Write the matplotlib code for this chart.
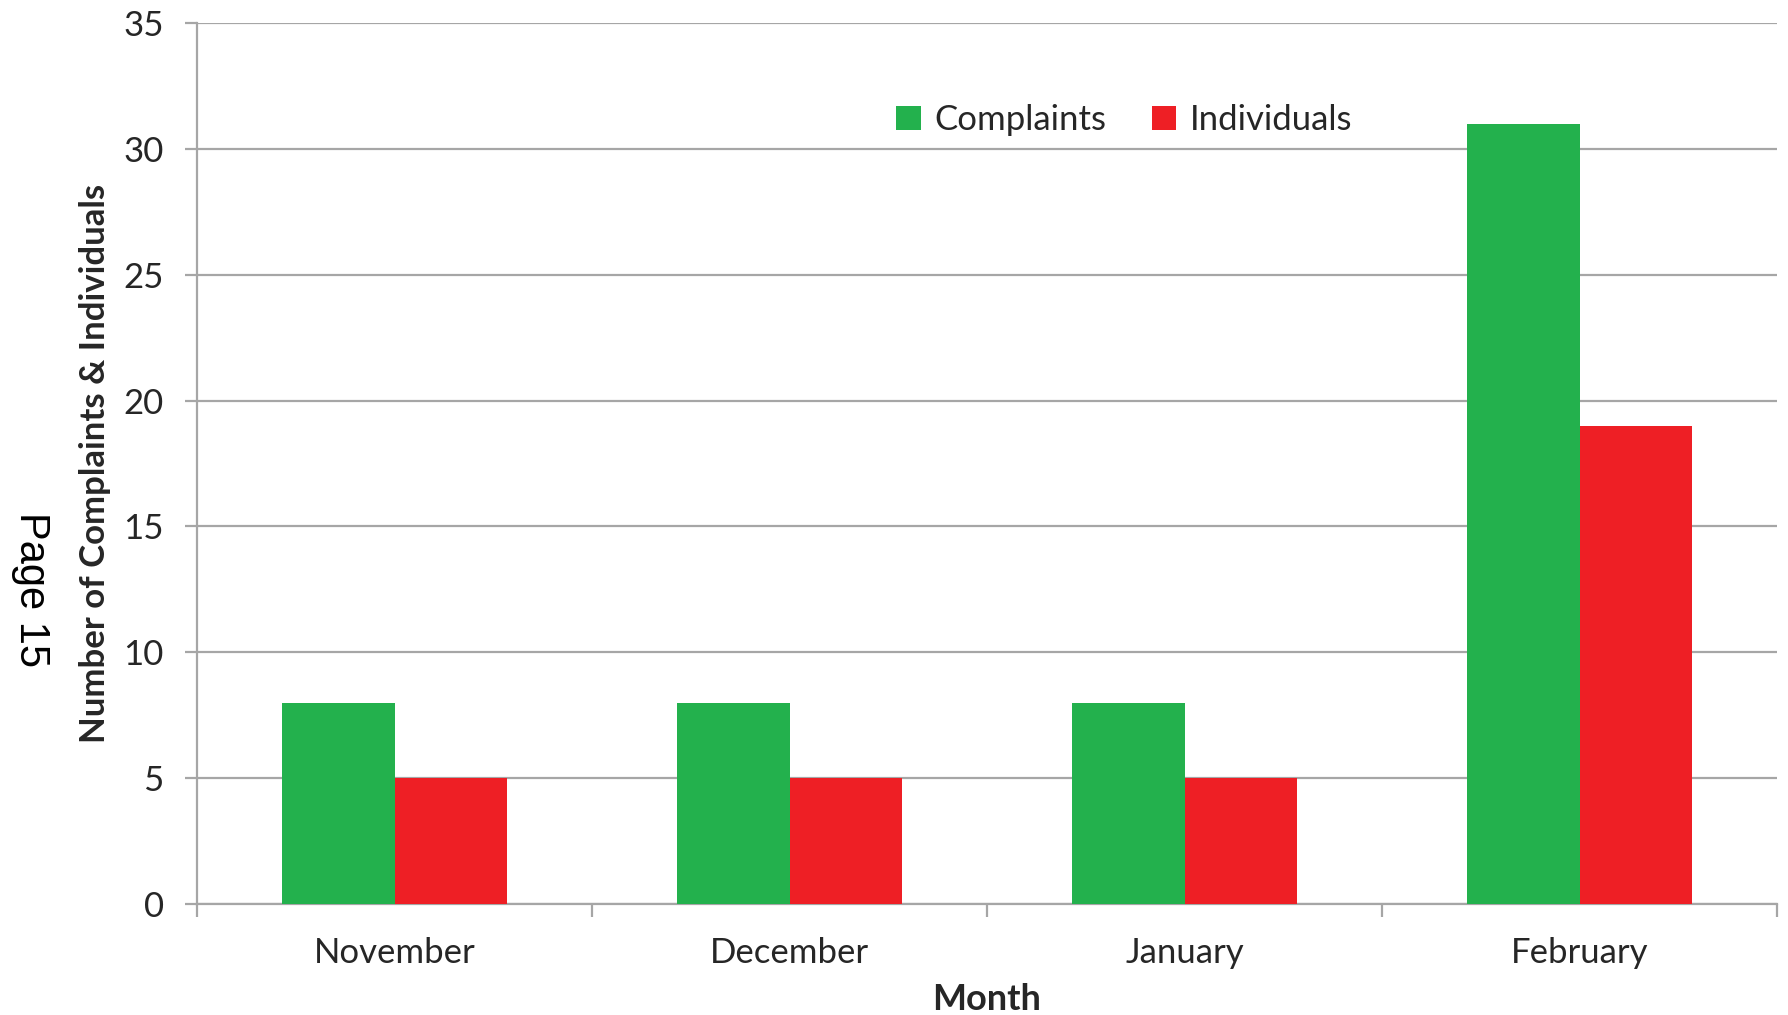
import matplotlib
matplotlib.use("Agg")
import matplotlib.pyplot as plt
import numpy as np

# 数据
months = ["November", "December", "January", "February"]
complaints = [8, 8, 8, 31]
individuals = [5, 5, 5, 19]
yTicks = [0, 5, 10, 15, 20, 25, 30, 35]

plt.rcParams['font.family'] = ['Lato', 'DejaVu Sans']

GREEN = '#23B14D'
RED = '#EE1F25'
GRID = '#A6A6A6'
TXT = '#262626'

fig = plt.figure(figsize=(17.88, 10.15), dpi=100)
ax = fig.add_axes([197/1788, 1-904/1015, (1777-197)/1788, (904-23)/1015])

x = np.arange(len(months))
w = 0.286
ax.bar(x - w/2, complaints, w, color=GREEN, label='Complaints', zorder=3)
ax.bar(x + w/2, individuals, w, color=RED, label='Individuals', zorder=3)

ax.set_xlim(-0.5, len(months) - 0.5)
ax.set_ylim(0, 35)
ax.set_yticks(yTicks)
ax.yaxis.grid(True, color=GRID, lw=1.6, zorder=0)
ax.set_axisbelow(True)

for s in ['top', 'right']:
	ax.spines[s].set_visible(False)
for s in ['left', 'bottom']:
	ax.spines[s].set_color(GRID)
	ax.spines[s].set_linewidth(1.6)

##x轴: 类别之间画刻度
ax.set_xticks(x)
ax.set_xticklabels(months)
ax.set_xticks(np.arange(len(months) + 1) - 0.5, minor=True)
ax.tick_params(axis='x', which='major', length=0, pad=24, labelsize=25, labelcolor=TXT)
ax.tick_params(axis='x', which='minor', length=9, width=1.6, color=GRID, direction='out')
ax.tick_params(axis='y', length=9, width=1.6, color=GRID, pad=15, labelsize=25, labelcolor=TXT)

fig.text(987/1788, 1-1000/1015, 'Month', fontsize=26, fontweight='bold', color=TXT, ha='center', va='center')
fig.text(95/1788, 1-463/1015, 'Number of Complaints & Individuals', fontsize=25, fontweight='bold',
	color=TXT, rotation=90, ha='center', va='center')
fig.text(31/1788, 1-590/1015, 'Page 15', fontsize=30, family='Liberation Sans', color='black',
	rotation=-90, ha='center', va='center')

leg = ax.legend(loc='center', bbox_to_anchor=(0.587, 0.89), ncol=2, frameon=False, fontsize=25,
	handlelength=0.7, handleheight=0.7, handletextpad=0.4, columnspacing=1.3)
for t in leg.get_texts():
	t.set_color(TXT)

fig.savefig('out.png', dpi=100)
